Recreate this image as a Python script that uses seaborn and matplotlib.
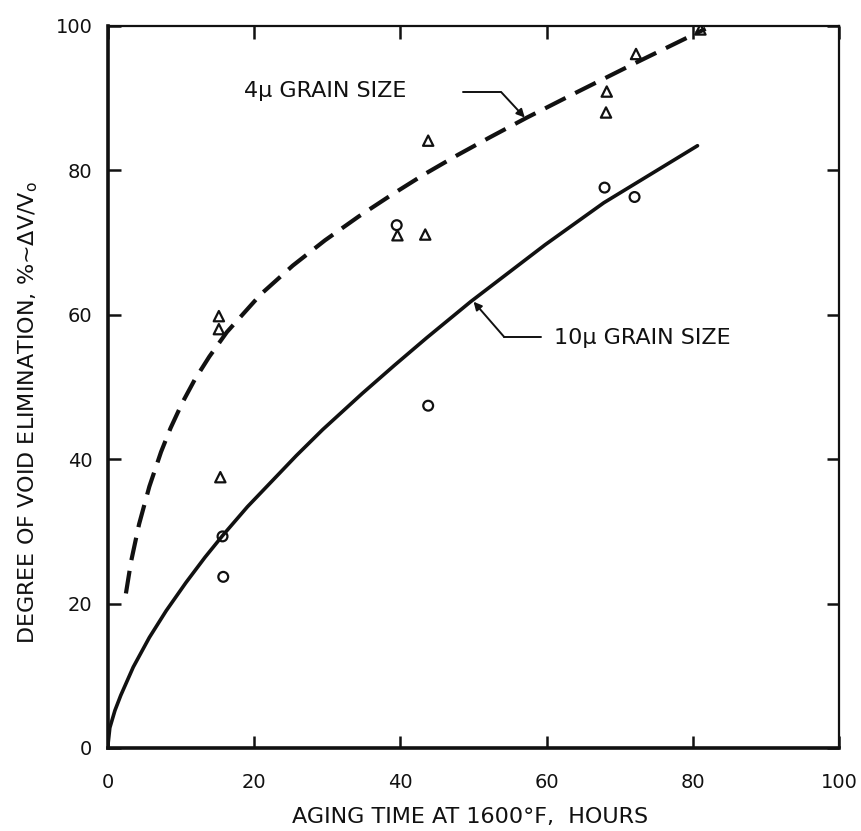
import matplotlib
matplotlib.use("Agg")
import matplotlib.pyplot as plt
import seaborn as sns
import pandas as pd

# 4 micron grain size: fitted (dashed) curve
fine_curve_hours = [2.5, 3.2, 4.3, 5.7, 7.3, 8.6, 10.2, 11.9, 13.9, 16.3, 20.9,
                    25.3, 29.7, 34.3, 38.8, 43.2, 47.8, 52.3, 57.3, 64.1, 72.2, 81.7]
fine_curve_pct = [21.4, 25.8, 31.0, 36.2, 41.0, 44.3, 47.8, 51.0, 54.2, 57.6, 62.8,
                  66.8, 70.3, 73.6, 76.6, 79.4, 82.1, 84.6, 87.3, 90.8, 94.9, 99.6]

# 4 micron measured points (triangles)
fine_hours = [15.2, 15.2, 15.4, 39.6, 43.4, 43.8, 68.2, 68.1, 72.2, 81.0]
fine_pct = [59.8, 58.0, 37.5, 71.0, 71.1, 84.1, 90.9, 88.0, 96.1, 99.5]

# 10 micron grain size: fitted (solid) curve
coarse_curve_hours = [0, 0.3, 1.0, 1.8, 3.5, 5.7, 8.0, 10.7, 13.3, 15.7, 19.1, 25.8,
                      29.4, 34.8, 39.2, 43.6, 49.6, 59.8, 67.8, 80.6]
coarse_curve_pct = [0, 2.8, 5.2, 7.3, 11.2, 15.3, 19.0, 22.9, 26.4, 29.4, 33.4, 40.5,
                    44.1, 49.1, 53.0, 56.8, 61.8, 69.7, 75.5, 83.4]

# 10 micron measured points (circles)
coarse_hours = [15.7, 15.8, 39.5, 43.8, 67.9, 72.0]
coarse_pct = [29.3, 23.7, 72.4, 47.4, 77.6, 76.3]

ticks = [0, 20, 40, 60, 80, 100]

sns.set_style("ticks")
plt.rcParams['font.family'] = ['DejaVu Sans']
ink = '#111111'

fig = plt.figure(figsize=(8.61, 8.31), dpi=100)
ax = fig.add_axes([0.125, 0.0999, 0.850, 0.869])

fine_curve = pd.DataFrame({'hours': fine_curve_hours, 'pct': fine_curve_pct})
coarse_curve = pd.DataFrame({'hours': coarse_curve_hours, 'pct': coarse_curve_pct})

sns.lineplot(data=fine_curve, x='hours', y='pct', ax=ax, color=ink, lw=3.0,
             sort=False, estimator=None, linestyle=(0, (5.5, 2.6)),
             dash_joinstyle='round')
sns.lineplot(data=coarse_curve, x='hours', y='pct', ax=ax, color=ink, lw=2.6,
             sort=False, estimator=None, solid_joinstyle='round')

sns.scatterplot(x=fine_hours, y=fine_pct, ax=ax, marker='^', s=55, color=ink,
                facecolor='none', edgecolor=ink, linewidth=1.6, zorder=5)
sns.scatterplot(x=coarse_hours, y=coarse_pct, ax=ax, marker='o', s=50, color=ink,
                facecolor='none', edgecolor=ink, linewidth=1.6, zorder=5)

# curve labels with leader arrows
ax.text(18.7, 91.0, "4\u03bc GRAIN SIZE", fontsize=16, va='center', color=ink)
ax.plot([48.5, 53.8], [90.8, 90.8], color=ink, lw=1.4)
ax.annotate('', xy=(57.0, 87.3), xytext=(53.8, 90.8),
            arrowprops=dict(arrowstyle='-|>', color=ink, lw=1.4,
                            mutation_scale=12, shrinkA=0, shrinkB=0))

ax.text(61.0, 56.8, "10\u03bc GRAIN SIZE", fontsize=16, va='center', color=ink)
ax.plot([59.2, 54.2], [56.9, 56.9], color=ink, lw=1.4)
ax.annotate('', xy=(50.0, 61.8), xytext=(54.2, 56.9),
            arrowprops=dict(arrowstyle='-|>', color=ink, lw=1.4,
                            mutation_scale=12, shrinkA=0, shrinkB=0))

ax.set_xlim(0, 100)
ax.set_ylim(0, 100)
ax.set_xticks(ticks)
ax.set_yticks(ticks)
ax.tick_params(direction='in', length=9, width=1.8, top=True, right=True,
               labelsize=14, colors=ink)
ax.tick_params(axis='x', pad=18)
ax.tick_params(axis='y', pad=11)

for side in ['left', 'bottom']:
    ax.spines[side].set_linewidth(2.6)
for side in ['top', 'right']:
    ax.spines[side].set_linewidth(1.6)
for sp in ax.spines.values():
    sp.set_color(ink)

ax.set_xlabel("AGING TIME AT 1600\u00b0F,  HOURS", fontsize=16, color=ink)
ax.set_ylabel("DEGREE OF VOID ELIMINATION, %~\u0394V/V$_\\mathregular{o}$",
              fontsize=16, color=ink)
ax.xaxis.set_label_coords(0.495, -0.082)
ax.yaxis.set_label_coords(-0.093, 0.465)

fig.savefig('out.png', dpi=100)
